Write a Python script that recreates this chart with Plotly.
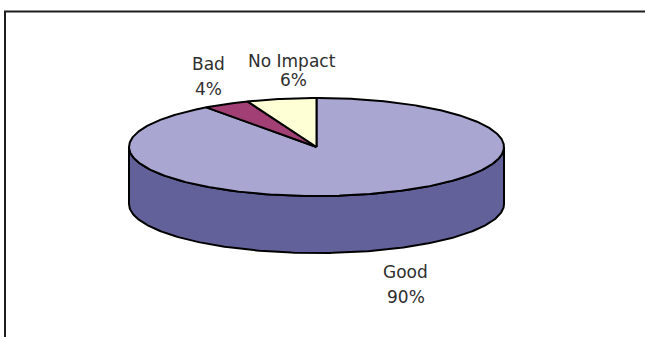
import numpy as np
import plotly.graph_objects as go

# Survey result: impact rating shares (percent)
categories = ["Good", "Bad", "No Impact"]
shares = [90, 4, 6]

top_colors = ["#A9A6D2", "#A23F74", "#FFFFD6"]
side_colors = ["#63619A", "#6E2A50", "#B3B396"]

# Pie geometry in page pixels
W, H = 645, 337
CX, CY = 316.5, 147.0   # centre of the top face
RX, RY = 187.5, 49.0    # ellipse radii of the top face
DEPTH = 57.0            # thickness of the disc
LINE = dict(color="black", width=2)

# Label anchors (page pixels): name line and percent line for each category
label_pos = {
    "Good": ((405, 272), (406, 297)),
    "Bad": ((208, 64), (208, 89)),
    "No Impact": ((292, 61), (293, 80)),
}
LABEL_FONT = dict(family="DejaVu Sans, sans-serif", size=17, color="#2e2e2e")


def ell(theta_deg, dy=0.0):
    """Point on the pie rim; angle measured clockwise from 12 o'clock."""
    t = np.radians(theta_deg)
    return CX + RX * np.sin(t), CY - RY * np.cos(t) + dy


fig = go.Figure()

# slice angular extents, clockwise from the top
bounds = np.concatenate([[0], np.cumsum(shares)]) / sum(shares) * 360.0

# front wall: visible between 90 deg and 270 deg
for i, cat in enumerate(categories):
    a0, a1 = max(bounds[i], 90.0), min(bounds[i + 1], 270.0)
    if a1 <= a0:
        continue
    th = np.linspace(a0, a1, 200)
    xt, yt = ell(th)
    xb, yb = ell(th[::-1], DEPTH)
    xs = np.concatenate([xt, xb, xt[:1]])
    ys = np.concatenate([yt, yb, yt[:1]])
    fig.add_trace(go.Scatter(x=xs, y=ys, mode="lines", fill="toself",
                             fillcolor=side_colors[i], line=LINE,
                             hoverinfo="skip", showlegend=False))

# top face slices
for i, cat in enumerate(categories):
    th = np.linspace(bounds[i], bounds[i + 1], max(int(shares[i] * 6), 20))
    xa, ya = ell(th)
    xs = np.concatenate([[CX], xa, [CX]])
    ys = np.concatenate([[CY], ya, [CY]])
    fig.add_trace(go.Scatter(x=xs, y=ys, mode="lines", fill="toself",
                             fillcolor=top_colors[i], line=LINE,
                             hoverinfo="skip", showlegend=False,
                             name=cat))

# slice labels: category name above its percentage
for cat, val in zip(categories, shares):
    (nx, ny), (px, py) = label_pos[cat]
    for text, x, y in ((cat, nx, ny), (f"{val}%", px, py)):
        fig.add_annotation(x=x, y=y, text=text, showarrow=False,
                           font=LABEL_FONT, xanchor="center", yanchor="middle")

# chart frame (extends past the right and bottom edges)
fig.add_shape(type="rect", x0=5, y0=11.5, x1=W + 20, y1=H + 20,
              line=dict(color="#1e1e1e", width=2), layer="above")

fig.update_layout(
    width=W, height=H,
    margin=dict(l=0, r=0, t=0, b=0),
    paper_bgcolor="white", plot_bgcolor="white",
    xaxis=dict(range=[0, W], visible=False, fixedrange=True),
    yaxis=dict(range=[H, 0], visible=False, fixedrange=True),
)

fig.write_html("out.html")
